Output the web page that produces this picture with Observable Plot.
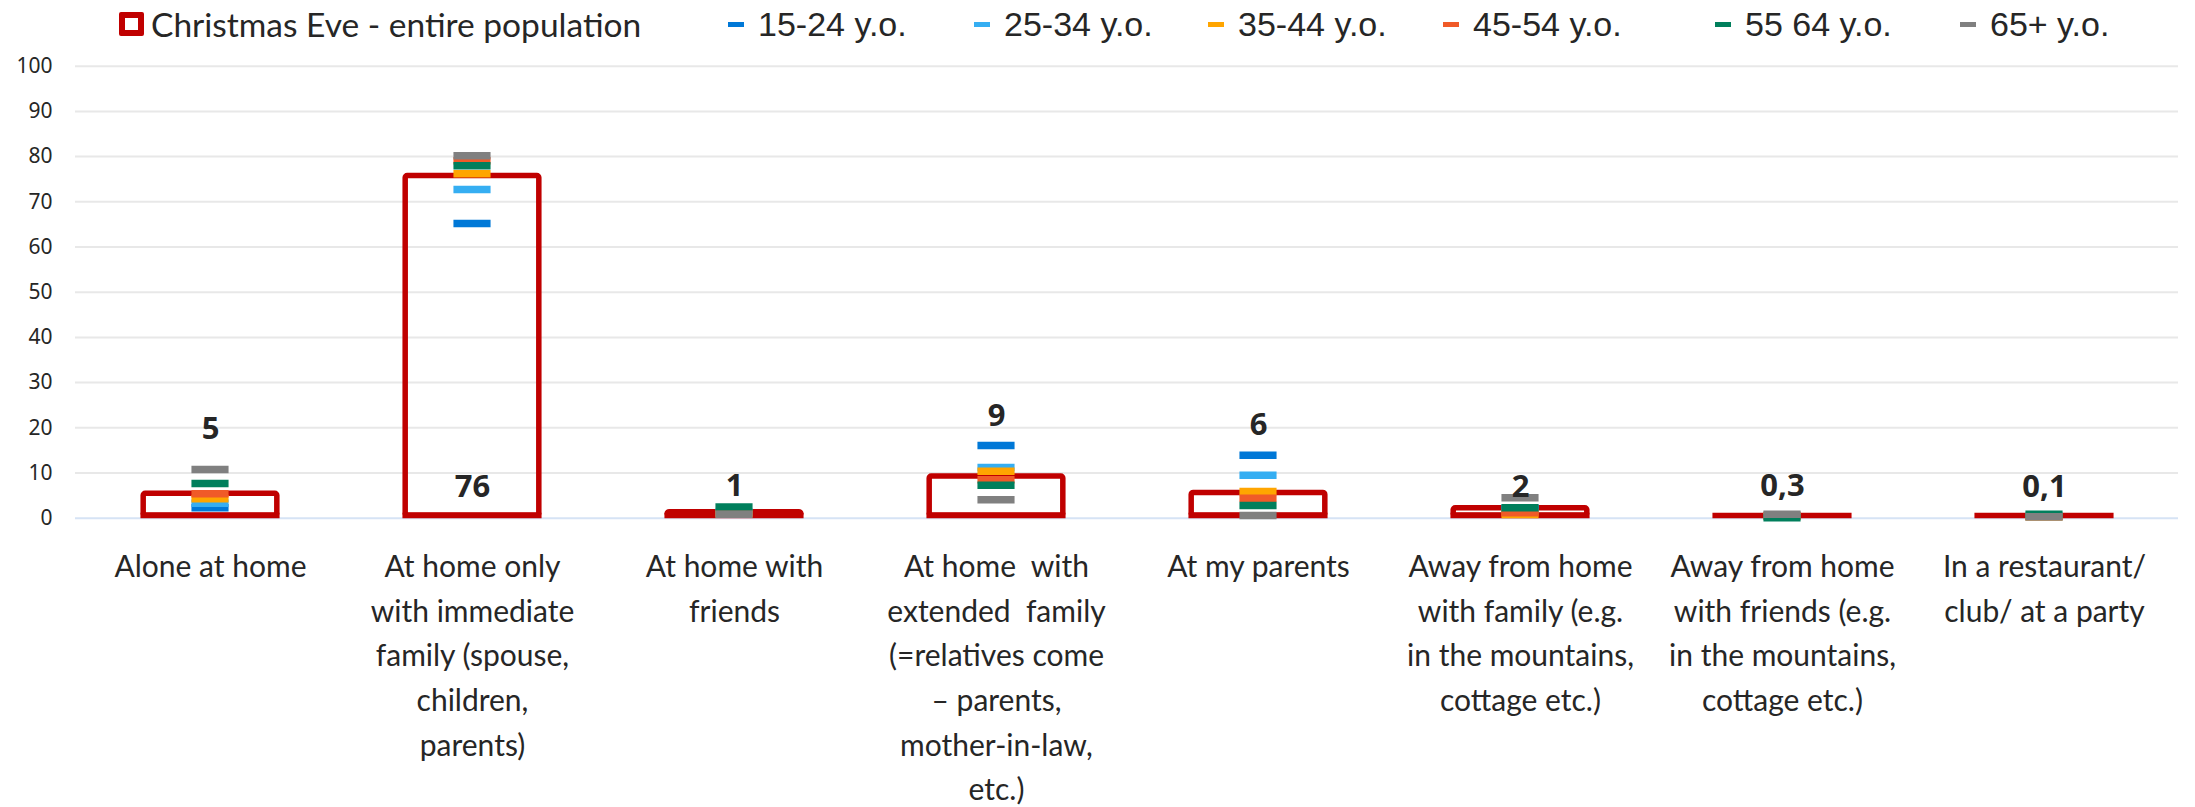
<!DOCTYPE html>
<html><head><meta charset="utf-8">
<script src="https://cdn.jsdelivr.net/npm/d3@7"></script>
<script src="https://cdn.jsdelivr.net/npm/@observablehq/plot@0.6"></script>
<style>
html,body{margin:0;padding:0;background:#fff;}
#chart{width:2195px;height:807px;position:relative;overflow:hidden;background:#fff;}
#legend{position:relative;height:48px;width:2195px;}
.item{position:absolute;top:0;height:48px;display:flex;align-items:center;color:#262626;white-space:nowrap;}
.sq{box-sizing:border-box;width:25px;height:24px;border:6px solid #C00000;border-radius:2px;background:#fff;margin-right:7px;}
.dash{width:16px;height:5px;margin-right:14px;}
.main{font-family:Lato,"Noto Sans",sans-serif;font-size:33.5px;}
.age{font-family:"Liberation Sans",Arial,sans-serif;font-size:34px;}
#chart svg{display:block;}
</style></head><body>
<div id="chart"><div id="legend"></div></div>
<script>
// ---- data ----
const categories = [
  "Alone at home",
  "At home only\nwith immediate\nfamily (spouse,\nchildren,\nparents)",
  "At home with\nfriends",
  "At home  with\nextended  family\n(=relatives come\n– parents,\nmother-in-law,\netc.)",
  "At my parents",
  "Away from home\nwith family (e.g.\nin the mountains,\ncottage etc.)",
  "Away from home\nwith friends (e.g.\nin the mountains,\ncottage etc.)",
  "In a restaurant/\nclub/ at a party"
];
const populationLabel = "Christmas Eve - entire population";
const population = [5.4, 75.7, 1.3, 9.2, 5.6, 2.2, 0.3, 0.1];
const ageGroups = ["15-24 y.o.", "25-34 y.o.", "35-44 y.o.", "45-54 y.o.", "55 64 y.o.", "65+ y.o."];
const age15_24 = [2.3, 65.2, 1.2, 16.1, 13.9, 2.0, 0.5, 0.4];
const age25_34 = [3.3, 72.7, 1.3, 11.2, 9.5, 2.2, 0.6, 0.4];
const age35_44 = [4.3, 76.2, 1.0, 10.4, 5.9, 0.8, 0.5, 0.3];
const age45_54 = [5.4, 79.1, 1.1, 8.5, 4.4, 1.2, 0.6, 0.4];
const age55_64 = [7.7, 78.0, 2.5, 7.3, 2.8, 2.3, 0.1, 0.9];
const age65plus = [10.8, 80.2, 0.9, 4.1, 0.6, 4.5, 0.9, 0.3];
const labelPos = [19.8, 6.9, 7.0, 22.7, 20.5, 6.9, 7.0, 6.9];
const yTicks = [0, 10, 20, 30, 40, 50, 60, 70, 80, 90, 100];

// ---- styles / layout ----
const ageColors = ["#0078D7", "#35AEF2", "#FFA500", "#F05A28", "#007F5C", "#808080"];
const barColor = "#C00000";
const legendX = [728, 974, 1208, 1443, 1715, 1960];

const ageSeries = [age15_24, age25_34, age35_44, age45_54, age55_64, age65plus];
const fmt = v => v >= 1 ? String(Math.round(v)) : String(v).replace(".", ",");
const data = categories.map((c, i) => ({cat: c, pop: population[i], label: fmt(population[i]), lp: labelPos[i]}));
const ageData = ageGroups.flatMap((g, gi) => categories.map((c, i) => ({cat: c, group: g, v: ageSeries[gi][i]})));

// legend
const legend = document.getElementById("legend");
{
  const it = document.createElement("div");
  it.className = "item main"; it.style.left = "119px";
  it.innerHTML = `<span class="sq"></span><span>${populationLabel}</span>`;
  legend.appendChild(it);
}
ageGroups.forEach((g, i) => {
  const it = document.createElement("div");
  it.className = "item age"; it.style.left = legendX[i] + "px";
  it.innerHTML = `<span class="dash" style="background:${ageColors[i]}"></span><span>${g}</span>`;
  legend.appendChild(it);
});

const W = 2195, H = 759, mL = 75, mR = 17;
const step = (W - mL - mR) / categories.length;
const barOuter = 140, sw = 5.5, markW = 38;

const chart = Plot.plot({
  width: W, height: H,
  marginLeft: mL, marginRight: mR, marginTop: 17.7, marginBottom: 289.3,
  style: {background: "#fff", fontFamily: "Lato, 'Noto Sans', sans-serif", color: "#262626"},
  x: {domain: categories, padding: 0, axis: null},
  y: {domain: [0, 100], axis: null},
  color: {domain: ageGroups, range: ageColors},
  marks: [
    Plot.gridY(yTicks.filter(d => d > 0), {stroke: "#e8e8e8", strokeOpacity: 1, strokeWidth: 2}),
    Plot.ruleY([0], {stroke: "#d6e3f5", strokeWidth: 2}),
    Plot.axisY(yTicks, {tickSize: 0, tickPadding: 23, fontSize: 21, fontFamily: "'Noto Sans', sans-serif", fill: "#262626", label: null}),
    Plot.axisX({tickSize: 0, tickPadding: 27, fontSize: 30, lineHeight: 1.49, fontFamily: "Lato, sans-serif", fill: "#262626", label: null}),
    Plot.barY(data, {x: "cat", y: "pop", stroke: barColor, strokeWidth: sw, fill: "none",
      insetLeft: (step - barOuter + sw) / 2, insetRight: (step - barOuter + sw) / 2, insetBottom: sw / 2, rx: 2}),
    Plot.tickY(data, {x: "cat", y: () => 0, stroke: barColor, strokeWidth: sw, dy: -sw / 2,
      insetLeft: (step - barOuter) / 2, insetRight: (step - barOuter) / 2}),
    Plot.tickY(ageData, {x: "cat", y: "v", stroke: "group", strokeWidth: 7.5,
      insetLeft: (step - markW) / 2, insetRight: (step - markW) / 2}),
    Plot.text(data, {x: "cat", y: "lp", text: "label", fontSize: 31, fontWeight: "bold",
      fontFamily: "'Noto Sans', sans-serif", fill: "#262626"})
  ]
});
document.getElementById("chart").appendChild(chart);
</script>
</body></html>
